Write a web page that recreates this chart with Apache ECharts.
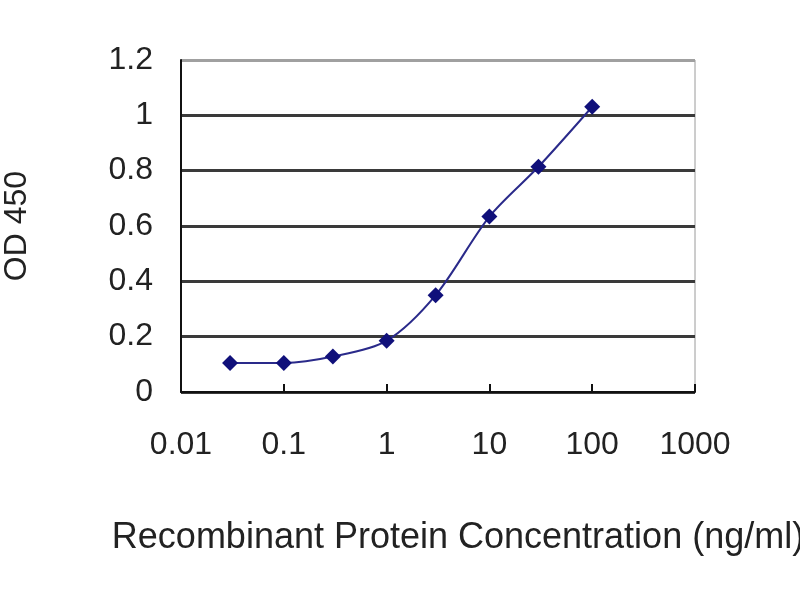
<!DOCTYPE html>
<html>
<head>
<meta charset="utf-8">
<script src="https://cdn.jsdelivr.net/npm/echarts@6/dist/echarts.min.js"></script>
<style>
  html, body { margin: 0; padding: 0; background: #fff; }
  #chart { width: 800px; height: 600px; }
</style>
</head>
<body>
<div id="chart"></div>
<script>
// concentration (ng/ml) and OD 450 readings
var concentrations = [0.03, 0.1, 0.3, 1, 3, 10, 30, 100];
var odValues = [0.105, 0.105, 0.128, 0.185, 0.35, 0.634, 0.814, 1.031];
var xTickLabels = ['0.01', '0.1', '1', '10', '100', '1000'];

function DisplayElisaCurve(idDiv)
{
    var myChart = echarts.init(document.getElementById(idDiv));

    var points = concentrations.map(function (c, i) { return [c, odValues[i]]; });

    var option = {
  animation: false,
  grid: {
    left: 181,
    right: 105,
    top: 60,
    bottom: 208,
    outerBoundsMode: 'none',
    show: true,
    borderColor: '#9a9a9a',
    borderWidth: 1,
    backgroundColor: '#fff'
  },
  xAxis: {
    type: 'log',
    logBase: 10,
    min: 0.01,
    max: 1000,
    name: 'Recombinant Protein Concentration (ng/ml)',
    nameLocation: 'middle',
    nameGap: 128,
    nameTextStyle: { fontFamily: 'Liberation Sans', fontSize: 36, color: '#222', padding: [0, 0, 0, 40] },
    axisLine: { lineStyle: { color: '#111', width: 2 } },
    axisTick: { inside: true, length: 8, lineStyle: { color: '#111', width: 2 } },
    minorTick: { show: false },
    splitLine: { show: false },
    axisLabel: {
      margin: 37,
      fontFamily: 'Liberation Sans',
      fontSize: 32,
      color: '#222',
      formatter: function (v) {
        var idx = Math.round(Math.log10(v)) + 2;
        return xTickLabels[idx];
      }
    }
  },
  yAxis: {
    type: 'value',
    min: 0,
    max: 1.2,
    interval: 0.2,
    name: 'OD 450',
    nameLocation: 'middle',
    nameGap: 148,
    nameTextStyle: { fontFamily: 'Liberation Sans', fontSize: 32, color: '#222' },
    axisLine: { show: true, lineStyle: { color: '#111', width: 2 } },
    axisTick: { show: false },
    splitLine: {
      show: true,
      lineStyle: { color: ['#3a3a3a', '#3a3a3a', '#3a3a3a', '#3a3a3a', '#3a3a3a', '#3a3a3a', '#a0a0a0'], width: 3 }
    },
    axisLabel: {
      margin: 28,
      fontFamily: 'Liberation Sans',
      fontSize: 32,
      color: '#222',
      formatter: function (v) { return String(Math.round(v * 10) / 10); }
    }
  },
  series: [
    {
      name: 'OD 450',
      type: 'line',
      smooth: 0.3,
      data: points,
      symbol: 'diamond',
      symbolSize: 16,
      itemStyle: { color: '#10107a' },
      lineStyle: { color: '#2a2a8a', width: 2 }
    }
  ]
};

      myChart.setOption(option);
}

DisplayElisaCurve('chart');
</script>
</body>
</html>
